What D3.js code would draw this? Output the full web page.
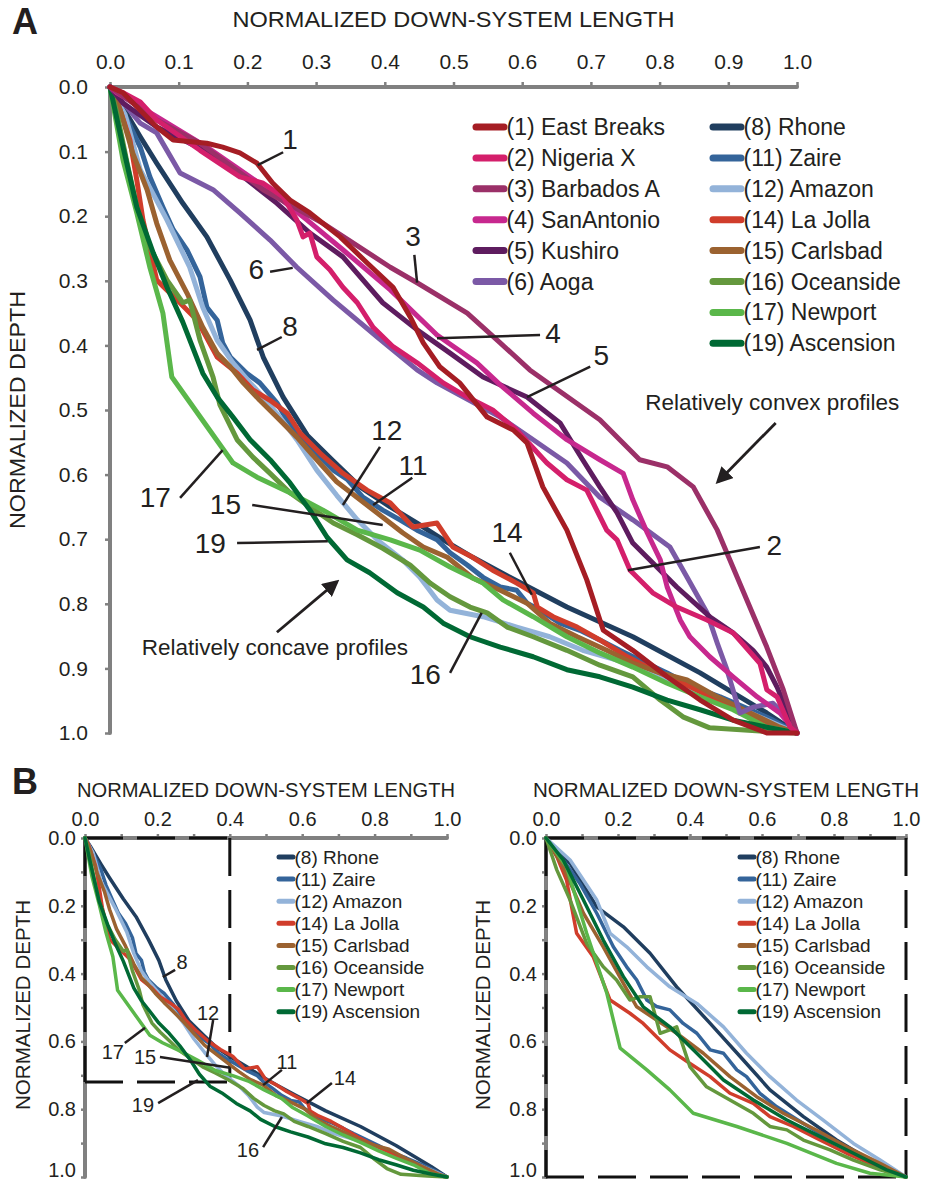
<!DOCTYPE html>
<html lang="en">
<head>
<meta charset="UTF-8" />
<title>Normalized profiles</title>
<script src="https://d3js.org/d3.v7.min.js"></script>
<style>
  body { margin: 0; background: #fff; }
  svg { display: block; font-family: "Liberation Sans", Arial, Helvetica, sans-serif; }
  .series { fill: none; stroke-linejoin: round; stroke-linecap: round; }
  .axis .domain { stroke: #808080; stroke-width: 4; stroke-linecap: round; }
  .axis .tick line { stroke: #808080; stroke-width: 2.5; }
  .axis .tick text { fill: #231f20; }
  .lead { stroke: #231f20; stroke-width: 2.5; }
  .box { fill: none; stroke: #111; stroke-width: 3; stroke-dasharray: 38 14; }
</style>
</head>
<body>
<svg id="chart" width="935" height="1184"></svg>
<script>
// ---- data: [normalized down-system length, normalized depth] ----
const eastBreaks = [[0,0],[0.019,0.009],[0.044,0.036],[0.068,0.062],[0.092,0.082],[0.141,0.087],[0.164,0.093],[0.189,0.102],[0.214,0.118],[0.237,0.149],[0.262,0.175],[0.291,0.195],[0.335,0.232],[0.374,0.272],[0.412,0.31],[0.437,0.356],[0.456,0.396],[0.48,0.433],[0.509,0.458],[0.549,0.511],[0.587,0.531],[0.607,0.551],[0.63,0.619],[0.665,0.686],[0.694,0.763],[0.718,0.841],[0.761,0.872],[0.811,0.913],[0.859,0.949],[0.907,0.98],[0.956,1],[1,1]];
const nigeriaX = [[0,0],[0.019,0.009],[0.044,0.023],[0.068,0.051],[0.131,0.098],[0.189,0.139],[0.223,0.149],[0.252,0.17],[0.272,0.206],[0.281,0.232],[0.291,0.226],[0.301,0.263],[0.32,0.283],[0.339,0.31],[0.36,0.334],[0.383,0.372],[0.412,0.402],[0.447,0.427],[0.485,0.458],[0.52,0.48],[0.557,0.5],[0.592,0.531],[0.636,0.582],[0.665,0.608],[0.694,0.624],[0.723,0.686],[0.738,0.701],[0.757,0.748],[0.79,0.783],[0.825,0.805],[0.869,0.825],[0.907,0.845],[0.946,0.892],[0.956,0.933],[0.971,0.944],[0.99,0.991],[1,1]];
const barbadosA = [[0,0],[0.068,0.051],[0.131,0.087],[0.223,0.159],[0.31,0.211],[0.408,0.279],[0.447,0.303],[0.52,0.35],[0.568,0.396],[0.611,0.438],[0.713,0.515],[0.771,0.577],[0.811,0.588],[0.849,0.619],[0.884,0.686],[0.921,0.779],[0.956,0.867],[0.98,0.933],[1,1]];
const sanAntonio = [[0,0],[0.01,0.009],[0.068,0.046],[0.141,0.093],[0.189,0.128],[0.237,0.164],[0.287,0.206],[0.339,0.252],[0.408,0.314],[0.476,0.384],[0.534,0.427],[0.568,0.461],[0.616,0.505],[0.665,0.546],[0.713,0.577],[0.747,0.598],[0.761,0.639],[0.782,0.69],[0.801,0.732],[0.811,0.774],[0.83,0.825],[0.844,0.851],[0.873,0.882],[0.907,0.913],[0.942,0.944],[0.975,0.969],[1,1]];
const kushiro = [[0,0],[0.019,0.025],[0.068,0.062],[0.116,0.087],[0.156,0.108],[0.194,0.139],[0.243,0.18],[0.291,0.226],[0.339,0.263],[0.397,0.334],[0.447,0.376],[0.495,0.412],[0.543,0.449],[0.607,0.48],[0.655,0.52],[0.688,0.577],[0.713,0.619],[0.738,0.659],[0.761,0.706],[0.796,0.743],[0.825,0.774],[0.873,0.82],[0.907,0.845],[0.936,0.872],[0.956,0.898],[0.971,0.929],[0.985,0.964],[1,1]];
const aoga = [[0,0],[0.044,0.056],[0.068,0.071],[0.102,0.133],[0.15,0.159],[0.189,0.195],[0.233,0.237],[0.272,0.279],[0.325,0.33],[0.389,0.387],[0.447,0.438],[0.476,0.458],[0.568,0.511],[0.616,0.546],[0.665,0.582],[0.713,0.635],[0.761,0.67],[0.815,0.712],[0.84,0.759],[0.869,0.814],[0.884,0.861],[0.898,0.902],[0.917,0.969],[0.936,0.96],[0.965,0.954],[0.985,0.975],[1,1]];
const rhone = [[0,0],[0.015,0.025],[0.044,0.077],[0.068,0.118],[0.106,0.18],[0.141,0.232],[0.175,0.299],[0.204,0.361],[0.223,0.418],[0.252,0.48],[0.287,0.539],[0.325,0.579],[0.364,0.619],[0.408,0.65],[0.447,0.675],[0.485,0.701],[0.528,0.728],[0.582,0.759],[0.665,0.805],[0.761,0.851],[0.859,0.907],[0.956,0.969],[1,1]];
const zaire = [[0,0],[0.025,0.051],[0.044,0.093],[0.058,0.139],[0.077,0.186],[0.092,0.221],[0.112,0.252],[0.131,0.294],[0.141,0.341],[0.156,0.361],[0.164,0.396],[0.175,0.418],[0.199,0.443],[0.218,0.458],[0.243,0.489],[0.262,0.523],[0.291,0.557],[0.325,0.593],[0.346,0.608],[0.368,0.635],[0.397,0.655],[0.422,0.67],[0.447,0.686],[0.476,0.701],[0.495,0.721],[0.52,0.74],[0.543,0.759],[0.568,0.774],[0.592,0.779],[0.607,0.799],[0.626,0.81],[0.655,0.83],[0.684,0.841],[0.713,0.856],[0.742,0.872],[0.771,0.887],[0.811,0.907],[0.849,0.929],[0.888,0.944],[0.932,0.964],[0.965,0.98],[1,1]];
const amazon = [[0,0],[0.022,0.043],[0.044,0.128],[0.083,0.206],[0.116,0.279],[0.135,0.341],[0.156,0.392],[0.179,0.427],[0.204,0.458],[0.223,0.48],[0.247,0.511],[0.272,0.546],[0.301,0.593],[0.33,0.632],[0.36,0.67],[0.389,0.701],[0.426,0.732],[0.451,0.759],[0.476,0.794],[0.495,0.81],[0.543,0.82],[0.592,0.836],[0.64,0.851],[0.688,0.872],[0.738,0.887],[0.786,0.907],[0.834,0.929],[0.884,0.949],[0.932,0.969],[0.98,0.991],[1,1]];
const laJolla = [[0,0],[0.01,0.02],[0.029,0.082],[0.039,0.144],[0.048,0.206],[0.068,0.299],[0.098,0.33],[0.127,0.361],[0.156,0.418],[0.185,0.443],[0.208,0.469],[0.233,0.485],[0.258,0.505],[0.277,0.536],[0.306,0.567],[0.339,0.598],[0.374,0.624],[0.408,0.644],[0.441,0.681],[0.476,0.675],[0.499,0.712],[0.528,0.728],[0.557,0.748],[0.592,0.768],[0.616,0.783],[0.622,0.805],[0.645,0.82],[0.68,0.836],[0.713,0.856],[0.753,0.882],[0.79,0.902],[0.834,0.923],[0.884,0.949],[0.932,0.975],[0.971,0.995],[1,1]];
const carlsbad = [[0,0],[0.015,0.036],[0.033,0.102],[0.054,0.159],[0.068,0.211],[0.087,0.268],[0.112,0.319],[0.135,0.372],[0.156,0.412],[0.175,0.433],[0.194,0.458],[0.218,0.485],[0.243,0.511],[0.272,0.542],[0.301,0.577],[0.33,0.611],[0.364,0.639],[0.397,0.666],[0.426,0.69],[0.456,0.712],[0.491,0.728],[0.528,0.76],[0.568,0.779],[0.607,0.799],[0.64,0.83],[0.68,0.851],[0.723,0.872],[0.761,0.892],[0.801,0.907],[0.84,0.918],[0.884,0.944],[0.932,0.969],[0.975,0.991],[1,1]];
const oceanside = [[0,0],[0.01,0.04],[0.025,0.118],[0.039,0.186],[0.058,0.248],[0.083,0.299],[0.106,0.334],[0.116,0.33],[0.131,0.392],[0.15,0.449],[0.16,0.492],[0.185,0.546],[0.208,0.573],[0.233,0.598],[0.262,0.628],[0.291,0.65],[0.325,0.675],[0.36,0.693],[0.397,0.714],[0.437,0.74],[0.466,0.768],[0.495,0.789],[0.524,0.805],[0.549,0.814],[0.578,0.836],[0.616,0.851],[0.665,0.872],[0.713,0.895],[0.761,0.913],[0.801,0.949],[0.834,0.975],[0.873,0.992],[0.946,0.997],[1,1]];
const newport = [[0,0],[0.019,0.113],[0.039,0.195],[0.058,0.279],[0.077,0.35],[0.09,0.449],[0.179,0.582],[0.214,0.604],[0.262,0.628],[0.31,0.655],[0.36,0.686],[0.408,0.701],[0.451,0.717],[0.495,0.743],[0.543,0.768],[0.572,0.794],[0.616,0.82],[0.665,0.851],[0.713,0.876],[0.761,0.898],[0.811,0.923],[0.859,0.944],[0.907,0.964],[0.956,0.991],[1,1]];
const ascension = [[0,0],[0.019,0.093],[0.039,0.186],[0.063,0.257],[0.083,0.31],[0.106,0.364],[0.135,0.443],[0.156,0.48],[0.179,0.511],[0.204,0.546],[0.233,0.577],[0.262,0.613],[0.291,0.655],[0.316,0.697],[0.345,0.732],[0.378,0.752],[0.418,0.783],[0.456,0.805],[0.485,0.83],[0.524,0.851],[0.568,0.867],[0.616,0.882],[0.665,0.902],[0.713,0.913],[0.761,0.929],[0.811,0.949],[0.859,0.964],[0.907,0.98],[0.956,0.991],[1,1]];

// upper part of the concave profiles, renormalized (panel B, right)
const rhoneTop = [[0,0],[0.067,0.075],[0.141,0.203],[0.215,0.262],[0.289,0.34],[0.363,0.439],[0.456,0.547],[0.548,0.655],[0.622,0.743],[0.715,0.822],[0.807,0.891],[0.9,0.95],[1,1]];
const zaireTop = [[0,0],[0.048,0.065],[0.094,0.134],[0.141,0.222],[0.187,0.321],[0.224,0.38],[0.252,0.419],[0.28,0.478],[0.307,0.497],[0.344,0.507],[0.381,0.547],[0.419,0.576],[0.456,0.625],[0.493,0.635],[0.53,0.684],[0.557,0.704],[0.594,0.753],[0.641,0.793],[0.715,0.842],[0.807,0.901],[0.9,0.96],[1,1]];
const amazonTop = [[0,0],[0.067,0.065],[0.141,0.183],[0.178,0.281],[0.224,0.321],[0.28,0.38],[0.344,0.439],[0.419,0.488],[0.493,0.557],[0.557,0.635],[0.622,0.704],[0.696,0.773],[0.77,0.832],[0.854,0.901],[0.928,0.95],[1,1]];
const laJollaTop = [[0,0],[0.03,0.055],[0.057,0.124],[0.085,0.281],[0.131,0.35],[0.178,0.478],[0.233,0.517],[0.27,0.547],[0.307,0.586],[0.344,0.625],[0.4,0.665],[0.456,0.704],[0.511,0.753],[0.576,0.783],[0.622,0.822],[0.687,0.851],[0.761,0.891],[0.835,0.93],[0.9,0.96],[0.956,0.989],[1,1]];
const carlsbadTop = [[0,0],[0.048,0.085],[0.104,0.222],[0.159,0.321],[0.215,0.429],[0.252,0.498],[0.307,0.537],[0.363,0.576],[0.437,0.635],[0.511,0.704],[0.585,0.763],[0.659,0.812],[0.752,0.862],[0.835,0.911],[0.928,0.96],[1,1]];
const oceansideTop = [[0,0],[0.03,0.094],[0.067,0.183],[0.113,0.311],[0.159,0.38],[0.196,0.419],[0.233,0.478],[0.261,0.468],[0.289,0.468],[0.317,0.576],[0.344,0.566],[0.363,0.557],[0.4,0.675],[0.446,0.734],[0.511,0.773],[0.576,0.812],[0.622,0.851],[0.669,0.861],[0.715,0.891],[0.789,0.92],[0.854,0.95],[0.928,0.979],[1,1]];
const newportTop = [[0,0],[0.057,0.085],[0.113,0.281],[0.169,0.458],[0.206,0.62],[0.28,0.684],[0.344,0.743],[0.409,0.812],[0.53,0.851],[0.669,0.901],[0.807,0.96],[0.9,0.989],[1,1]];
const ascensionTop = [[0,0],[0.048,0.065],[0.104,0.183],[0.159,0.301],[0.215,0.409],[0.27,0.498],[0.344,0.557],[0.419,0.635],[0.493,0.714],[0.576,0.773],[0.669,0.832],[0.761,0.881],[0.854,0.93],[0.946,0.979],[1,1]];

const convexIds = [1, 2, 3, 4, 5, 6];
const concaveIds = [8, 11, 12, 14, 15, 16, 17, 19];
const names = { 1: "East Breaks", 2: "Nigeria X", 3: "Barbados A", 4: "SanAntonio", 5: "Kushiro", 6: "Aoga",
  8: "Rhone", 11: "Zaire", 12: "Amazon", 14: "La Jolla", 15: "Carlsbad", 16: "Oceanside", 17: "Newport", 19: "Ascension" };
const fullProfiles = { 1: eastBreaks, 2: nigeriaX, 3: barbadosA, 4: sanAntonio, 5: kushiro, 6: aoga,
  8: rhone, 11: zaire, 12: amazon, 14: laJolla, 15: carlsbad, 16: oceanside, 17: newport, 19: ascension };
const topProfiles = { 8: rhoneTop, 11: zaireTop, 12: amazonTop, 14: laJollaTop, 15: carlsbadTop,
  16: oceansideTop, 17: newportTop, 19: ascensionTop };

const ticksA = d3.range(0, 11).map(i => i / 10);
const ticksB = d3.range(0, 11).map(i => i / 10);
const boxB = [0.4, 0.72];   // extent of the zoomed part (length, depth)

// label text, text position, leader start, leader end (data units)
const labelsA = [
  ["1", 0.262, 0.082, 0.252, 0.101, 0.215, 0.121],
  ["3", 0.441, 0.232, 0.443, 0.26, 0.447, 0.303],
  ["6", 0.213, 0.283, 0.233, 0.286, 0.266, 0.28],
  ["8", 0.262, 0.37, 0.25, 0.387, 0.214, 0.407],
  ["4", 0.645, 0.382, 0.626, 0.384, 0.476, 0.389],
  ["5", 0.715, 0.416, 0.699, 0.433, 0.607, 0.48],
  ["2", 0.967, 0.71, 0.946, 0.712, 0.754, 0.748],
  ["12", 0.403, 0.532, 0.393, 0.557, 0.339, 0.647],
  ["11", 0.441, 0.586, 0.44, 0.605, 0.383, 0.647],
  ["15", 0.168, 0.647, 0.207, 0.647, 0.397, 0.678],
  ["19", 0.146, 0.706, 0.185, 0.706, 0.317, 0.703],
  ["17", 0.066, 0.636, 0.102, 0.636, 0.164, 0.562],
  ["14", 0.578, 0.69, 0.582, 0.721, 0.614, 0.786],
  ["16", 0.459, 0.91, 0.495, 0.907, 0.541, 0.814]
];
const labelsB = [
  ["8", 0.268, 0.366, 0.249, 0.389, 0.215, 0.41],
  ["12", 0.34, 0.516, 0.354, 0.537, 0.337, 0.646],
  ["17", 0.077, 0.631, 0.11, 0.605, 0.166, 0.56],
  ["15", 0.166, 0.646, 0.207, 0.646, 0.401, 0.678],
  ["11", 0.558, 0.661, 0.544, 0.684, 0.492, 0.729],
  ["19", 0.16, 0.788, 0.202, 0.782, 0.312, 0.714],
  ["14", 0.718, 0.708, 0.682, 0.723, 0.613, 0.782],
  ["16", 0.45, 0.92, 0.492, 0.912, 0.544, 0.823]
];
const notes = [
  { text: "Relatively convex profiles", tx: 0.964, ty: 0.489, from: [0.969, 0.52], to: [0.885, 0.611] },
  { text: "Relatively concave profiles", tx: 0.24, ty: 0.868, from: [0.243, 0.844], to: [0.33, 0.766] }
];

const colors = { 1: "#a51d24", 2: "#d41f6b", 3: "#9b3068", 4: "#c7288e", 5: "#5e1c5f", 6: "#7b59a6",
  8: "#203e5f", 11: "#34649a", 12: "#93b3d9", 14: "#d03d2b", 15: "#9b6230", 16: "#64983d", 17: "#5ab74a", 19: "#006934" };

const svg = d3.select("#chart");
const ink = "#231f20";

svg.append("defs").append("marker")
  .attr("id", "arrow").attr("viewBox", "0 0 10 10").attr("refX", 8).attr("refY", 5)
  .attr("markerWidth", 6).attr("markerHeight", 6).attr("orient", "auto-start-reverse")
  .append("path").attr("d", "M0,0 L10,5 L0,10 z").attr("fill", ink);

function panel(opt) {
  const x = d3.scaleLinear().domain([0, 1]).range(opt.xr);
  const y = d3.scaleLinear().domain([0, 1]).range(opt.yr);
  const g = svg.append("g");

  const fmt = opt.every2 ? (d => (Math.round(d * 10) % 2 === 0 ? d3.format(".1f")(d) : "")) : d3.format(".1f");

  g.append("g").attr("class", "axis")
    .attr("transform", `translate(0,${opt.yr[0]})`)
    .call(d3.axisTop(x).tickValues(opt.ticks).tickFormat(fmt).tickSize(opt.tick).tickSizeOuter(0).tickPadding(opt.xpad))
    .call(s => s.selectAll("text").style("font-size", opt.font + "px"));
  g.append("g").attr("class", "axis")
    .attr("transform", `translate(${opt.xr[0]},0)`)
    .call(d3.axisLeft(y).tickValues(opt.ticks).tickFormat(fmt).tickSize(opt.tick).tickSizeOuter(0).tickPadding(opt.ypad))
    .call(s => s.selectAll("text").style("font-size", opt.font + "px"))
    .call(s => s.selectAll(".tick").filter(d => d === 1).select("text").attr("dy", opt.lastDy || "0.32em"));

  g.selectAll(".domain").attr("d", null);
  g.append("path").attr("class", "axis-line")
    .attr("d", d3.line()([[x(1), y(0)], [x(0), y(0)], [x(0), y(1)]]))
    .attr("fill", "none").attr("stroke", "#808080").attr("stroke-width", 4).attr("stroke-linecap", "round");

  g.append("text").attr("x", d3.mean(opt.xr)).attr("y", opt.titleY)
    .attr("text-anchor", "middle").attr("fill", ink).style("font-size", opt.titleFont + "px")
    .attr("textLength", opt.titleLen).attr("lengthAdjust", "spacingAndGlyphs")
    .text("NORMALIZED DOWN-SYSTEM LENGTH");
  g.append("text")
    .attr("transform", `translate(${opt.ylabX},${opt.ylabY}) rotate(-90)`)
    .attr("text-anchor", "middle").attr("fill", ink).style("font-size", opt.titleFont + "px")
    .attr("textLength", opt.ylabLen).attr("lengthAdjust", "spacingAndGlyphs")
    .text("NORMALIZED DEPTH");

  if (opt.box) {
    const bx = opt.box[0], by = opt.box[1];
    const edges = [[[0, 0], [bx, 0]], [[bx, 0], [bx, by]], [[0, by], [bx, by]], [[0, 0], [0, by]]];
    g.selectAll(".box").data(edges).join("path").attr("class", "box")
      .attr("d", e => d3.line()(e.map(p => [x(p[0]), y(p[1])])));
  }

  const line = d3.line().x(d => x(d[0])).y(d => y(d[1]));
  g.selectAll(".series").data(opt.ids).join("path").attr("class", "series")
    .attr("d", id => line(opt.profiles[id]))
    .attr("stroke", id => colors[id]).attr("stroke-width", opt.lw);

  (opt.labels || []).forEach(l => {
    g.append("line").attr("class", "lead")
      .attr("x1", x(l[3])).attr("y1", y(l[4])).attr("x2", x(l[5])).attr("y2", y(l[6]))
      .attr("stroke-width", opt.leadW);
    g.append("text").attr("x", x(l[1])).attr("y", y(l[2]))
      .attr("text-anchor", "middle").attr("dominant-baseline", "central")
      .attr("fill", ink).style("font-size", opt.labFont + "px").text(l[0]);
  });

  // legend
  opt.legend.forEach(col => {
    col.ids.forEach((id, i) => {
      const yy = col.y + i * opt.legStep;
      g.append("line").attr("x1", col.x).attr("x2", col.x + opt.legLen).attr("y1", yy).attr("y2", yy)
        .attr("stroke", colors[id]).attr("stroke-width", opt.legW).attr("stroke-linecap", "round");
      g.append("text").attr("x", col.x + opt.legLen + opt.legW / 2 - 1).attr("y", yy)
        .attr("dominant-baseline", "central").attr("fill", ink).style("font-size", opt.legFont + "px")
        .text(`(${id}) ${names[id]}`);
    });
  });
  return { g, x, y };
}

// Panel A
const A = panel({
  xr: [110, 797], yr: [87, 733], ticks: ticksA, tick: 5, xpad: 13, ypad: 17, font: 21,
  titleY: 27, titleFont: 22, titleLen: 442, ylabX: 25, ylabY: 410, ylabLen: 238,
  ids: [...concaveIds, ...convexIds.slice().reverse()], profiles: fullProfiles, lw: 5,
  labels: labelsA, labFont: 28, leadW: 2.8,
  legend: [{ x: 476, y: 127, ids: convexIds }, { x: 713, y: 127, ids: concaveIds }],
  legStep: 30.9, legLen: 28, legW: 7, legFont: 23
});

notes.forEach(n => {
  A.g.append("text").attr("x", A.x(n.tx)).attr("y", A.y(n.ty))
    .attr("text-anchor", "middle").attr("dominant-baseline", "central")
    .attr("fill", ink).style("font-size", "22.5px").text(n.text);
  A.g.append("line").attr("x1", A.x(n.from[0])).attr("y1", A.y(n.from[1]))
    .attr("x2", A.x(n.to[0])).attr("y2", A.y(n.to[1]))
    .attr("stroke", ink).attr("stroke-width", 2.8).attr("marker-end", "url(#arrow)");
});

// Panel B, left: full concave profiles
panel({
  xr: [85, 447], yr: [838, 1177], ticks: ticksB, every2: true, tick: 4, xpad: 8, ypad: 5, font: 20,
  titleY: 797, titleFont: 20, titleLen: 378, ylabX: 30, ylabY: 1005, ylabLen: 210, lastDy: "-0.05em",
  ids: concaveIds, profiles: fullProfiles, lw: 3.5, box: boxB,
  labels: labelsB, labFont: 20, leadW: 2,
  legend: [{ x: 279, y: 857, ids: concaveIds }],
  legStep: 22.1, legLen: 14, legW: 5, legFont: 19
});

// Panel B, right: upper part of profiles, renormalized
panel({
  xr: [546, 906], yr: [838, 1177], ticks: ticksB, every2: true, tick: 4, xpad: 8, ypad: 5, font: 20,
  titleY: 797, titleFont: 20, titleLen: 386, ylabX: 490, ylabY: 1005, ylabLen: 210, lastDy: "-0.05em",
  ids: concaveIds, profiles: topProfiles, lw: 3.5, box: [1, 1],
  legend: [{ x: 740, y: 857, ids: concaveIds }],
  legStep: 22.1, legLen: 14, legW: 5, legFont: 19
});

svg.append("text").attr("x", 12).attr("y", 34).attr("fill", ink)
  .style("font-size", "36px").style("font-weight", "bold").text("A");
svg.append("text").attr("x", 12).attr("y", 794).attr("fill", ink)
  .style("font-size", "36px").style("font-weight", "bold").text("B");
</script>
</body>
</html>
